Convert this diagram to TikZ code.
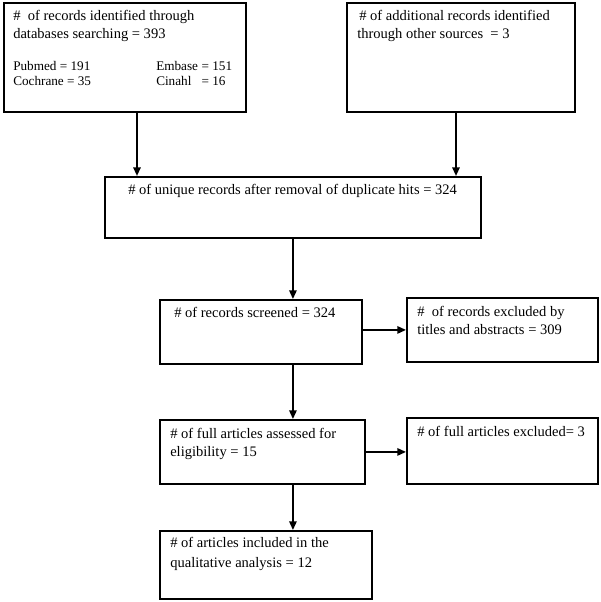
\documentclass[tikz,border=0pt]{standalone}
\usepackage{fontspec}
\setmainfont{Liberation Serif}
\usetikzlibrary{arrows.meta}
\newcommand{\twolines}[2]{\begin{tabular}[t]{@{}l@{}}#1\\#2\end{tabular}}
\tikzset{
  box/.style={draw, line width=1.4pt, rectangle, anchor=north west, inner sep=0pt},
  txt/.style={anchor=base west, inner sep=0pt, font=\fontsize{10.9pt}{13.5pt}\selectfont},
  small/.style={txt, font=\fontsize{9.9pt}{11.25pt}\selectfont},
  arr/.style={-{Triangle[length=6.5pt,width=5.5pt]}, line width=1.4pt},
}
\begin{document}
\begin{tikzpicture}
[x=0.75pt, y=-0.75pt]
\useasboundingbox (0,0) rectangle (600,602);
% boxes
\node[box, minimum width=181.5pt, minimum height=81.75pt] (db) at (3,2) {};
\node[box, minimum width=171pt, minimum height=81.75pt] (other) at (346,2) {};
\node[box, minimum width=282pt, minimum height=45.75pt] (uniq) at (104,176) {};
\node[box, minimum width=151.5pt, minimum height=48pt] (scr) at (159,299) {};
\node[box, minimum width=143.25pt, minimum height=48pt] (excl) at (406,297) {};
\node[box, minimum width=153.75pt, minimum height=48pt] (elig) at (159,419) {};
\node[box, minimum width=143.25pt, minimum height=49.5pt] (full) at (406,417) {};
\node[box, minimum width=159pt, minimum height=51pt] (incl) at (159,530) {};
% texts
\node[txt] (dbtxt) at (13,21) {\twolines{\#\ \ of records identified through}{databases searching = 393}};
\node[small] (dbsrc) at (13,71) {\twolines{Pubmed = 191}{Cochrane = 35}};
\node[small] (dbsrc2) at (156,71) {\twolines{\makebox[34pt][l]{Embase}= 151}{\makebox[34pt][l]{Cinahl}= 16}};
\node[txt] (othertxt) at (357,21) {\twolines{\hspace{1.5pt}\# of additional records identified}{through other sources\ \ = 3}};
\node[txt] (uniqtxt) at (128,195) {\# of unique records after removal of duplicate hits = 324};
\node[txt] (scrtxt) at (174,317) {\# of records screened = 324};
\node[txt] (excltxt) at (417,316) {\twolines{\#\ \ of records excluded by}{titles and abstracts = 309}};
\node[txt] (eligtxt) at (170,438) {\twolines{\# of full articles assessed for}{eligibility = 15}};
\node[txt] (fulltxt) at (417,436) {\# of full articles excluded= 3};
\node[txt, font=\fontsize{10.9pt}{15.5pt}\selectfont] (incltxt) at (170,547) {\twolines{\# of articles included in the}{qualitative analysis = 12}};
% connectors
\coordinate (dbx) at (137,0);
\coordinate (otherx) at (456,0);
\draw[arr] (db.south -| dbx) -- (uniq.north -| dbx);
\draw[arr] (other.south -| otherx) -- (uniq.north -| otherx);
\draw[arr] (uniq.south) -- (uniq.south |- scr.north);
\draw[arr] (scr.east |- excl.west) -- (excl.west);
\draw[arr] (uniq.south |- scr.south) -- (uniq.south |- elig.north);
\draw[arr] (elig.east) -- (elig.east -| full.west);
\draw[arr] (uniq.south |- elig.south) -- (uniq.south |- incl.north);
\end{tikzpicture}
\end{document}
